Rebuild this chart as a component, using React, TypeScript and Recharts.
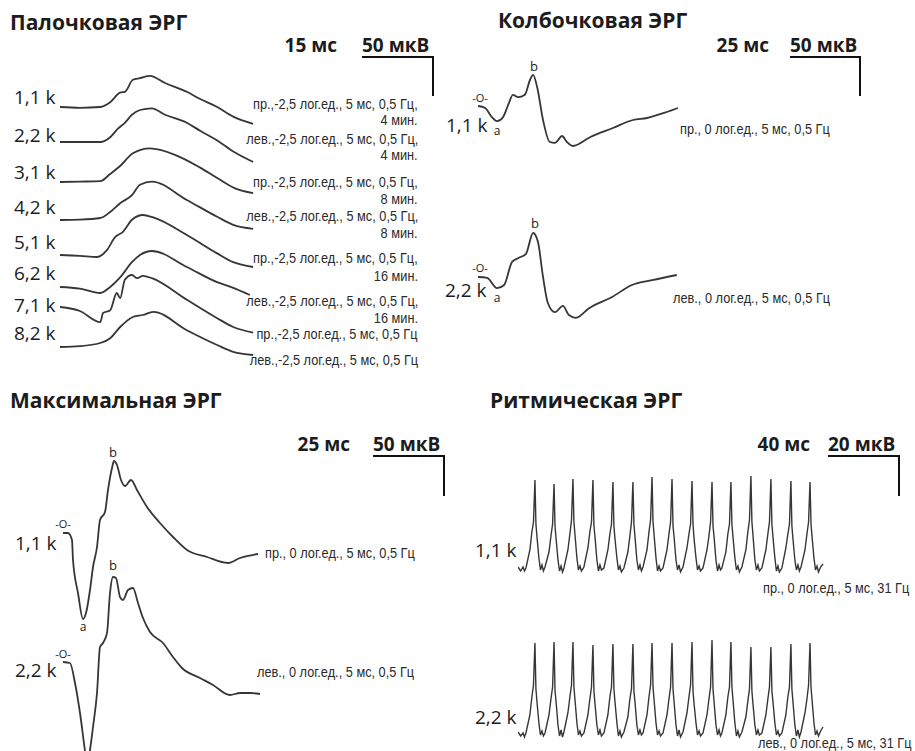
import React from "react";
import { LineChart, Line, XAxis, YAxis } from "recharts";

type Pt = [number, number];

// ---- Палочковая ЭРГ: время, мс / амплитуда, мкВ (от начала записи)
const ROD_TRACES: Pt[][] = [
  [[0, 0], [4.2, -1], [8.5, 0], [10.6, 6], [12.7, 18], [13.7, 19], [15.4, 34], [16.9, 36], [19.0, 39], [22.2, 30], [26.8, 19], [29.6, 10], [33.2, 0], [36.6, -12], [40.8, -21]],
  [[0, 0], [4.2, 0], [8.5, 0], [10.6, 6], [12.3, 17], [13.7, 24], [15.2, 34], [16.9, 40], [19.4, 42], [22.2, 34], [26.8, 24], [29.6, 14], [33.2, 2], [36.6, -12], [40.8, -25]],
  [[0, 0], [4.2, 0.5], [8.5, 1], [10.6, 10], [12.7, 20], [15.4, 36], [19.0, 42], [24.3, 34], [29.6, 18], [33.2, 5], [37.0, -8], [40.8, -14]],
  [[0, 0], [4.2, 0.5], [8.5, 2.5], [10.6, 10], [12.7, 21], [15.2, 31], [16.9, 44], [19.4, 48], [26.8, 25], [33.2, 4], [36.6, -6], [40.8, -11]],
  [[0, 0], [4.2, -1], [7.8, -2.5], [9.9, 6], [11.6, 22], [13.3, 29], [15.2, 44], [17.5, 50], [19.7, 47], [26.8, 25], [33.2, 2], [36.6, -9], [40.8, -15]],
  [[0, 0], [4.2, -2], [8.5, -7.5], [10.6, 0], [12.7, 12], [15.2, 31], [16.9, 40], [19.4, 45], [26.8, 25], [33.2, 6], [36.6, -1], [40.1, -10]],
  [[0, 0], [4.2, -5], [8.5, -19], [9.1, -7.5], [10.6, -4], [12.0, 17.5], [12.7, 11], [13.7, 34], [15.2, 40], [16.3, 36], [17.5, 39], [19.4, 36], [26.8, 9], [33.2, -14], [36.6, -25], [40.8, -32]],
  [[0, 0], [4.2, 1], [8.5, 5], [10.6, 11], [12.7, 25], [15.4, 37.5], [17.5, 40], [19.7, 44], [26.8, 21], [33.2, 2.5], [36.6, -6], [40.8, -10]],
];
const ROD_LABELS = ["1,1 k", "2,2 k", "3,1 k", "4,2 k", "5,1 k", "6,2 k", "7,1 k", "8,2 k"];
const ROD_CAPTIONS = [
  ["пр.,-2,5 лог.ед., 5 мс, 0,5 Гц,", "4 мин."],
  ["лев.,-2,5 лог.ед., 5 мс, 0,5 Гц,", "4 мин."],
  ["пр.,-2,5 лог.ед., 5 мс, 0,5 Гц,", "8 мин."],
  ["лев.,-2,5 лог.ед., 5 мс, 0,5 Гц,", "8 мин."],
  ["пр.,-2,5 лог.ед., 5 мс, 0,5 Гц,", "16 мин."],
  ["лев.,-2,5 лог.ед., 5 мс, 0,5 Гц,", "16 мин."],
  ["пр.,-2,5 лог.ед., 5 мс, 0,5 Гц"],
  ["лев.,-2,5 лог.ед., 5 мс, 0,5 Гц"],
];

// ---- Колбочковая ЭРГ
const CONE_OD: Pt[] = [[0, 0], [2.5, -2.5], [4.9, -14], [6.7, -19], [8.8, -14], [10.6, 1], [12.3, 14], [14.1, 11], [16.5, 14], [18.3, 32.5], [19.4, 39], [20.8, 24], [22.9, -17.5], [25.3, -45], [27.1, -46], [29.6, -37.5], [31.3, -45], [33.4, -50], [39.4, -39], [47.5, -27.5], [54.6, -17.5], [59.5, -15], [66.5, -7.5], [70.4, -2.5]];
const CONE_OS: Pt[] = [[0, 0], [3.2, -1], [6.7, -14], [9.2, -10], [12.0, 19], [14.4, 24], [16.9, 29], [19.4, 55], [21.1, 44], [22.9, 0], [24.6, -32.5], [27.1, -44], [29.9, -36], [32.0, -47.5], [34.5, -51], [39.1, -39], [47.2, -25], [54.2, -10], [61.3, -4], [70.0, 2.5]];

// ---- Максимальная ЭРГ
const MAX_OD: Pt[] = [[0, 0], [1.75, 0], [3.15, -8.75], [3.5, -33.75], [5.25, -75], [7.0, -107.5], [8.05, -100], [9.45, -71.25], [10.5, -42.5], [11.9, -17.5], [12.95, 16.25], [14.7, 26.25], [15.75, 53.75], [17.15, 81.25], [17.85, 90], [18.9, 85], [20.3, 66.25], [21.7, 58.75], [23.8, 66.25], [25.9, 53.75], [29.4, 32.5], [33.95, 12.5], [38.5, -5], [43.4, -21.25], [50.4, -30], [57.75, -37.5], [61.95, -31.25], [68.25, -26.25]];
const MAX_OS: Pt[] = [[0, 0], [2.45, -1.25], [4.2, -26.25], [5.95, -63.75], [7.7, -111.25], [8.4, -128.75], [9.45, -110], [10.5, -81.25], [11.9, -38.75], [12.95, 18.75], [14.0, 23.75], [15.4, 36.25], [16.45, 86.25], [17.5, 106.25], [18.55, 105], [19.95, 81.25], [21.0, 77.5], [22.75, 90], [24.5, 92.5], [26.25, 73.75], [28.0, 55], [30.45, 37.5], [35.0, 23.75], [38.5, 6.25], [41.65, -7.5], [47.95, -20], [52.5, -28.75], [58.45, -41.25], [61.95, -38.75], [65.45, -38.75], [68.95, -40]];

// ---- Ритмическая ЭРГ: общие моменты времени (мс) и амплитуды (мкВ) для двух глаз
const RHYTHM_T = [
  0, 1.5, 2.8, 3.6,
  4.4, 6.6, 7.7, 8.6, 9.4, 9.95, 10.5, 11.6, 12.45, 13.3, 14.1,
  15.0, 17.2, 18.3, 19.2, 20.0, 20.55, 21.1, 22.2, 23.05, 23.9, 24.7,
  25.5, 27.7, 28.8, 29.7, 30.5, 31.05, 31.6, 32.7, 33.55, 34.4, 35.2,
  36.6, 38.8, 39.9, 40.8, 41.6, 42.15, 42.7, 43.8, 44.65, 45.5, 46.3,
  47.7, 49.9, 51.0, 51.9, 52.7, 53.25, 53.8, 54.9, 55.75, 56.6, 57.4,
  58.8, 61.0, 62.1, 63.0, 63.8, 64.35, 64.9, 66.0, 66.85, 67.7, 68.5,
  69.4, 71.6, 72.7, 73.6, 74.4, 74.95, 75.5, 76.6, 77.45, 78.3, 79.1,
  80.5, 82.7, 83.8, 84.7, 85.5, 86.05, 86.6, 87.7, 88.55, 89.4, 90.2,
  91.6, 93.8, 94.9, 95.8, 96.6, 97.15, 97.7, 98.8, 99.65, 100.5, 101.3,
  102.7, 104.9, 106.0, 106.9, 107.7, 108.25, 108.8, 109.9, 110.75, 111.6, 112.4,
  113.2, 115.4, 116.5, 117.4, 118.2, 118.75, 119.3, 120.4, 121.25, 122.1, 122.9,
  124.3, 126.5, 127.6, 128.5, 129.3, 129.85, 130.4, 131.5, 132.35, 133.2, 134.0,
  135.4, 137.6, 138.7, 139.6, 140.4, 140.95, 141.5, 142.6, 143.45, 144.3, 145.1,
  146.5, 148.7, 149.8, 150.7, 151.5, 152.05, 152.6, 153.7, 154.55, 155.4, 156.2,
  157.1, 159.3, 160.4, 161.3, 162.1, 162.65, 163.2, 164.3, 165.15, 166.0, 166.8,
  168.0, 169.3,
];
const RHYTHM_OD = [
  1.5, -0.5, 1.5, -0.5,
  1, 10, 19, 24, 45, 23, 17, 6, 0, 2.5, -0.5,
  1.5, 9, 17, 23, 43, 22, 16, 5, -0.5, 2, -1,
  1, 10, 18, 25, 45.5, 24, 18, 6, 0, 2, -0.5,
  1.5, 11, 19, 24, 45, 22, 17, 5, -0.5, 2.5, 0,
  1, 10, 18, 23, 44, 22, 16, 6, 0, 2, -1,
  1, 9, 17, 24, 44, 23, 17, 5, 0, 2.5, -0.5,
  1.5, 10, 19, 25, 46.5, 24, 18, 6, -0.5, 2, -0.5,
  1, 10, 18, 24, 45.5, 22, 17, 5, 0, 2.5, -1,
  1.5, 11, 18, 23, 44.5, 23, 16, 6, 0, 2, -0.5,
  1, 10, 17, 24, 44, 22, 17, 5, -0.5, 2.5, 0,
  1, 9, 18, 23, 44, 23, 17, 6, 0, 2, -1,
  1.5, 10, 19, 25, 47, 24, 18, 5, 0, 2.5, -0.5,
  1, 10, 18, 24, 45.5, 23, 17, 6, -0.5, 2, -1,
  1, 11, 18, 23, 44.5, 22, 16, 5, 0, 2.5, -0.5,
  1.5, 10, 18, 24, 44, 23, 17, 6, 0, 2, -1,
  1.5, 3,
];
const RHYTHM_OS = [
  1.5, -0.5, 1, -1,
  1, 10, 19, 25, 46, 23, 17, 6, 0, 2, -0.5,
  1, 10, 18, 24, 46.5, 22, 17, 5, -0.5, 2.5, -1,
  1.5, 11, 19, 25, 46.5, 24, 18, 6, 0, 2, -0.5,
  1, 10, 18, 24, 45, 22, 16, 5, 0, 2.5, -0.5,
  1, 10, 19, 24, 45.5, 23, 17, 6, -0.5, 2, -1,
  1.5, 9, 18, 23, 45.5, 22, 17, 5, 0, 2.5, 0,
  1, 10, 19, 25, 46, 24, 18, 6, 0, 2, -0.5,
  1, 10, 18, 24, 46, 23, 17, 5, -0.5, 2.5, -1,
  1.5, 11, 19, 25, 46.5, 22, 16, 6, 0, 2, -0.5,
  1, 10, 18, 24, 47.5, 23, 17, 5, 0, 2.5, -0.5,
  1, 10, 19, 24, 46.5, 24, 18, 6, -0.5, 2, -1,
  1.5, 9, 17, 23, 44, 22, 16, 5, 0, 2.5, 0,
  1, 10, 18, 24, 44, 22, 17, 6, 0, 2, -0.5,
  1, 10, 19, 24, 45.5, 23, 17, 5, -0.5, 2.5, -1,
  1.5, 11, 18, 25, 46, 24, 18, 6, 0, 2, -0.5,
  2, 4,
];

const W = 915;
const H = 751;
const INK = "#363636";
const MAIN_FONT = "'Open Sans', 'Noto Sans', sans-serif";
const NARROW_FONT = "'Liberation Sans Narrow', 'Liberation Sans', sans-serif";
const NARROW_SX = 0.85;

type TxtProps = {
  x: number;
  y: number;
  size: number;
  children: React.ReactNode;
  bold?: boolean;
  align?: "left" | "right" | "center";
  font?: string;
  sx?: number;
  color?: string;
  lh?: number;
};

function Txt({ x, y, size, children, bold, align = "left", font = MAIN_FONT, sx = 1, color = "#1c1c1c", lh = 1 }: TxtProps) {
  const tx = align === "center" ? " translateX(-50%)" : "";
  const style: React.CSSProperties = {
    position: "absolute",
    top: y,
    transform: `translateY(-50%)${tx} scaleX(${sx})`,
    transformOrigin: align === "right" ? "right center" : align === "center" ? "center center" : "left center",
    fontFamily: font,
    fontSize: size,
    fontWeight: bold ? 700 : 400,
    color,
    whiteSpace: "nowrap",
    lineHeight: lh,
  };
  if (align === "right") style.right = W - x;
  else style.left = x;
  return <div style={style}>{children}</div>;
}

function Caption({ x, y, children, right }: { x: number; y: number; children: React.ReactNode; right?: boolean }) {
  return (
    <Txt x={x} y={y} size={15} align={right ? "right" : "left"} font={NARROW_FONT} sx={NARROW_SX} color="#2a2a2a" lh={0.9}>
      {children}
    </Txt>
  );
}

// масштабная метка: горизонталь (мс) + вертикаль (мкВ)
function ScaleBar({ msText, uvText, msRight, x, y, w, h }: { msText: string; uvText: string; msRight: number; x: number; y: number; w: number; h: number }) {
  return (
    <>
      <Txt x={msRight} y={y - 12} size={19} bold align="right">{msText}</Txt>
      <Txt x={x} y={y - 12} size={19} bold>{uvText}</Txt>
      <div style={{ position: "absolute", left: x, top: y - 1, width: w, height: 2, background: "#111" }} />
      <div style={{ position: "absolute", left: x + w - 2, top: y - 1, width: 2, height: h, background: "#111" }} />
    </>
  );
}

function Traces({ left, top, width, height, xMax, yMin, traces, offsets }: {
  left: number; top: number; width: number; height: number; xMax: number; yMin: number; traces: Pt[][]; offsets: number[];
}) {
  return (
    <div style={{ position: "absolute", left, top }}>
      <LineChart width={width} height={height} margin={{ top: 0, right: 0, bottom: 0, left: 0 }}>
        <XAxis type="number" dataKey="t" domain={[0, xMax]} hide allowDataOverflow />
        <YAxis type="number" domain={[yMin, 0]} hide allowDataOverflow />
        {traces.map((tr, i) => (
          <Line
            key={i}
            data={tr.map(([t, v]) => ({ t, v: v + offsets[i] }))}
            dataKey="v"
            type="monotone"
            dot={false}
            stroke={INK}
            strokeWidth={1.8}
            isAnimationActive={false}
          />
        ))}
      </LineChart>
    </div>
  );
}

const ROD_LABEL_Y = [97, 135, 172, 207, 242, 273, 305, 333];
const ROD_CAPTION_Y = [[104, 120], [139, 155], [182, 199], [216, 233], [258, 276], [301, 318], [334], [360]];

export default function App() {
  const rhythm = RHYTHM_T.map((t, i) => ({ t, od: RHYTHM_OD[i] - 50, os: RHYTHM_OS[i] - 132.5 }));

  return (
    <div style={{ position: "absolute", left: 0, top: 0, width: W, height: H, overflow: "hidden", background: "#fff" }}>
      {/* Палочковая */}
      <Txt x={10} y={22} size={21} bold>Палочковая ЭРГ</Txt>
      <ScaleBar msText="15 мс" uvText="50 мкВ" msRight={337} x={362} y={57} w={72} h={40} />
      <Traces left={60} top={60} width={200} height={310} xMax={42.25} yMin={-387.5}
        traces={ROD_TRACES} offsets={[-58.75, -102.5, -152.5, -200, -243.75, -283.75, -308.75, -358.75]} />
      {ROD_LABELS.map((l, i) => (
        <Txt key={l} x={14} y={ROD_LABEL_Y[i]} size={19}>{l}</Txt>
      ))}
      {ROD_CAPTIONS.map((lines, i) =>
        lines.map((s, j) => (
          <Caption key={`${i}-${j}`} x={418} y={ROD_CAPTION_Y[i][j]} right>{s}</Caption>
        ))
      )}

      {/* Колбочковая */}
      <Txt x={498} y={20} size={21} bold>Колбочковая ЭРГ</Txt>
      <ScaleBar msText="25 мс" uvText="50 мкВ" msRight={769} x={790} y={57} w={71} h={40} />
      <Traces left={478} top={60} width={212} height={270} xMax={74.65} yMin={-337.5}
        traces={[CONE_OD, CONE_OS]} offsets={[-57.5, -271.25]} />
      <Txt x={480} y={97} size={11} align="center">-O-</Txt>
      <Txt x={446} y={125} size={19}>1,1 k</Txt>
      <Txt x={497} y={131} size={12} align="center">a</Txt>
      <Txt x={534} y={66} size={13} align="center">b</Txt>
      <Caption x={680} y={129}>пр., 0 лог.ед., 5 мс, 0,5 Гц</Caption>
      <Txt x={480} y={267} size={11} align="center">-O-</Txt>
      <Txt x={445} y={290} size={19}>2,2 k</Txt>
      <Txt x={497} y={298} size={12} align="center">a</Txt>
      <Txt x={535} y={223} size={13} align="center">b</Txt>
      <Caption x={673} y={298}>лев., 0 лог.ед., 5 мс, 0,5 Гц</Caption>

      {/* Максимальная */}
      <Txt x={10} y={400} size={21} bold>Максимальная ЭРГ</Txt>
      <ScaleBar msText="25 мс" uvText="50 мкВ" msRight={350} x={373} y={456} w={72} h={41} />
      <Traces left={63} top={440} width={200} height={311} xMax={70} yMin={-388.75}
        traces={[MAX_OD, MAX_OS]} offsets={[-116.25, -277.5]} />
      <Txt x={63} y={523} size={11} align="center">-O-</Txt>
      <Txt x={15} y={543} size={19}>1,1 k</Txt>
      <Txt x={113} y={452} size={13} align="center">b</Txt>
      <Txt x={83} y={627} size={12} align="center">a</Txt>
      <Caption x={265} y={553}>пр., 0 лог.ед., 5 мс, 0,5 Гц</Caption>
      <Txt x={63} y={653} size={11} align="center">-O-</Txt>
      <Txt x={15} y={670} size={19}>2,2 k</Txt>
      <Txt x={113} y={565} size={13} align="center">b</Txt>
      <Caption x={257} y={672}>лев., 0 лог.ед., 5 мс, 0,5 Гц</Caption>

      {/* Ритмическая */}
      <Txt x={490} y={400} size={21} bold>Ритмическая ЭРГ</Txt>
      <ScaleBar msText="40 мс" uvText="20 мкВ" msRight={810} x={828} y={456} w={72} h={41} />
      <div style={{ position: "absolute", left: 518, top: 470 }}>
        <LineChart width={312} height={281} data={rhythm} margin={{ top: 0, right: 0, bottom: 0, left: 0 }}>
          <XAxis type="number" dataKey="t" domain={[0, 173.2]} hide allowDataOverflow />
          <YAxis type="number" domain={[-140.5, 0]} hide allowDataOverflow />
          <Line dataKey="od" type="linear" dot={false} stroke={INK} strokeWidth={1.4} isAnimationActive={false} />
          <Line dataKey="os" type="linear" dot={false} stroke={INK} strokeWidth={1.4} isAnimationActive={false} />
        </LineChart>
      </div>
      <Txt x={475} y={550} size={19}>1,1 k</Txt>
      <Caption x={763} y={588}>пр., 0 лог.ед., 5 мс, 31 Гц</Caption>
      <Txt x={475} y={717} size={19}>2,2 k</Txt>
      <Caption x={758} y={743}>лев., 0 лог.ед., 5 мс, 31 Гц</Caption>
    </div>
  );
}
